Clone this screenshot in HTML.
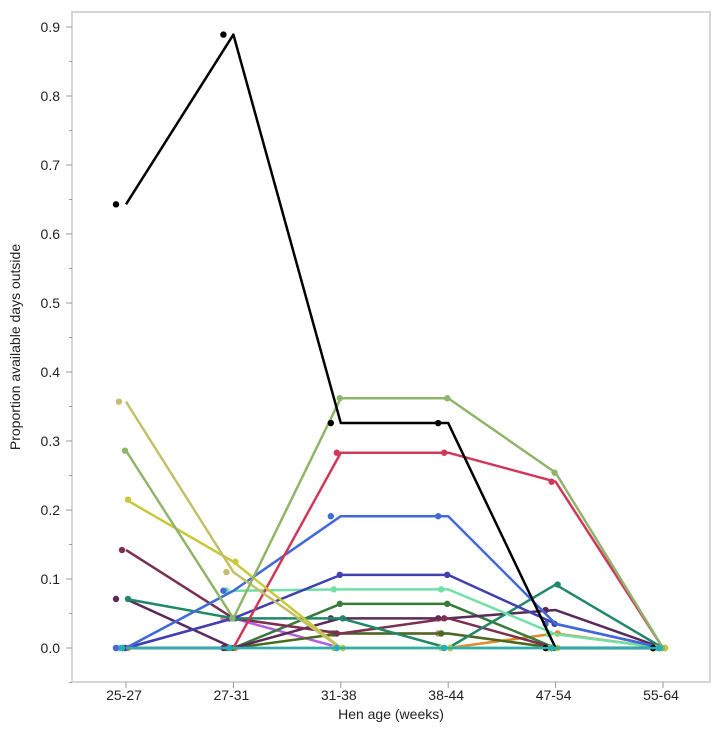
<!DOCTYPE html>
<html><head><meta charset="utf-8"><style>
body{margin:0;background:#fff;font-family:"Liberation Sans",sans-serif}
svg text{font-family:"Liberation Sans",sans-serif;fill:#222}
</style></head><body>
<svg id="chart" width="727" height="733" viewBox="0 0 727 733" xmlns="http://www.w3.org/2000/svg">
<rect x="72" y="12" width="638" height="670" fill="#fff" stroke="#c8c8c8" stroke-width="1.5"/>
<g id="axes"></g>
<g id="series"></g>
<text x="391" y="719" font-size="14" text-anchor="middle">Hen age (weeks)</text>
<text transform="translate(20,347) rotate(-90)" font-size="14" text-anchor="middle">Proportion available days outside</text>
</svg>
<script>
const categories=["25-27","27-31","31-38","38-44","47-54","55-64"];
const yTicks=[0,0.1,0.2,0.3,0.4,0.5,0.6,0.7,0.8,0.9];
const seriesColors=["#000000","#8fb56a","#c4c06a","#c8c83a","#d0385a","#4169d8","#4040b0","#70e0a8","#208868","#7a3050","#5a2a5a","#3a7a3a","#4a6a20","#e08a2a","#b060e0","#d08090","#24b0b8"];
const s0=[0.643,0.889,0.326,0.326,0,0];
const s1=[0.286,0.043,0.362,0.362,0.254,0];
const s2=[0.357,0.110,0,0,0,0];
const s3=[0.215,0.125,0,0,0,0];
const s4=[0,0,0.283,0.283,0.241,0];
const s5=[0,0.083,0.191,0.191,0.035,0];
const s6=[0,0.043,0.106,0.106,0.035,0];
const s7=[0,0.083,0.085,0.085,0.02,0];
const s8=[0.071,0.043,0.043,0,0.092,0];
const s9=[0.142,0.043,0.021,0.043,0,0];
const s10=[0.071,0,0.043,0.043,0.055,0];
const s11=[0,0,0.064,0.064,0,0];
const s12=[0,0,0.021,0.021,0,0];
const s13=[0,0,0,0,0.021,0];
const s14=[0,0.043,0,0,0,0];
const s15=[0,0.043,0.021,0.021,0,0];
const s16=[0,0,0,0,0,0];
const seriesValues=[s15,s14,s13,s12,s11,s10,s9,s8,s7,s6,s5,s4,s3,s2,s1,s0,s16];
const colorOrder=[15,14,13,12,11,10,9,8,7,6,5,4,3,2,1,0,16];
const NS="http://www.w3.org/2000/svg";
const xS=i=>126+i*107.4;
const yS=v=>648-v*690;
const axes=document.getElementById('axes');
function mk(tag,attrs,parent){const e=document.createElementNS(NS,tag);for(const k in attrs)e.setAttribute(k,attrs[k]);parent.appendChild(e);return e;}
yTicks.forEach(t=>{
  const tk=mk('line',{x1:66,x2:72,y1:yS(t),y2:yS(t),stroke:'#999'},axes);
  
  
  const mn=mk('line',{x1:69,x2:72,y1:yS(t-0.05),y2:yS(t-0.05),stroke:'#999'},axes);
  
  
  const lb=mk('text',{x:60,y:yS(t)+5,'font-size':14,'text-anchor':'end'},axes);
  lb.textContent=t.toFixed(1);
  
  
});
categories.forEach((c,i)=>{
  const tk=mk('line',{x1:xS(i),x2:xS(i),y1:682,y2:688,stroke:'#999'},axes);
  
  
  const lb=mk('text',{x:xS(i)-2,y:700,'font-size':14,'text-anchor':'middle'},axes);
  lb.textContent=c;
  
  
});
const sg=document.getElementById('series');
seriesValues.forEach((vals,si)=>{
  const col=seriesColors[colorOrder[si]];
  const g=mk('g',{},sg);
  
  
  const pts=vals.map((v,i)=>xS(i)+','+yS(v)).join(' ');
  mk('polyline',{points:pts,fill:'none',stroke:col,'stroke-width':2.5,'stroke-linejoin':'round'},g);
  vals.forEach((v,i)=>{
    const jit=((si*7)%5-2)*3-4;
    const c=mk('circle',{cx:xS(i)+jit,cy:yS(v),r:3.2,fill:col},g);
    
    
  });
});
</script>
</body></html>
